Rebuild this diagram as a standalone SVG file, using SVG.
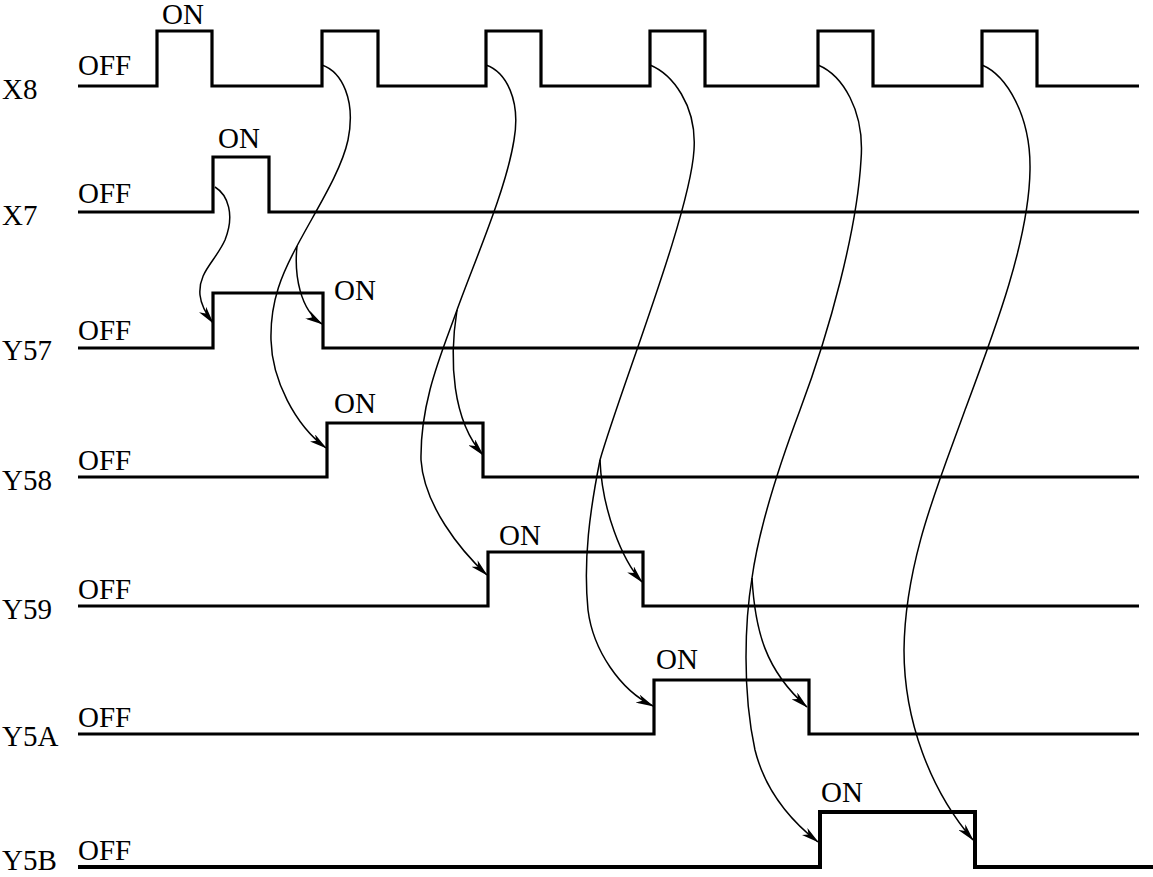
<svg xmlns="http://www.w3.org/2000/svg" width="1153" height="877" viewBox="0 0 1153 877">
<style>
text{font-family:"Liberation Serif","Times New Roman",serif;font-size:29px;fill:#000}
.sig{fill:none;stroke:#000;stroke-width:3.2;stroke-linejoin:miter;stroke-linecap:butt}
.con{fill:none;stroke:#000;stroke-width:1.5}
.arr{marker-end:url(#ah)}
</style>
<defs>
<marker id="ah" markerUnits="userSpaceOnUse" viewBox="0 0 18 9" refX="17" refY="4.5" markerWidth="18" markerHeight="9" orient="auto">
<path d="M0,0 L18,4.5 L0,9 L5,4.5 Z" fill="#000"/>
</marker>
</defs>
<rect width="1153" height="877" fill="#fff"/>
<g id="X8">
<text x="2" y="99">X8</text>
<text x="78" y="75">OFF</text>
<text x="162" y="24">ON</text>
<path class="sig" d="M78,86 H157 V31 H212 V86 H322 V31 H378 V86 H486 V31 H541 V86 H650 V31 H705 V86 H818 V31 H873 V86 H982 V31 H1037 V86 H1139"/>
</g>
<g id="X7">
<text x="2" y="225">X7</text>
<text x="78" y="203">OFF</text>
<text x="218" y="148">ON</text>
<path class="sig" d="M78,212 H213 V157 H269 V212 H1139"/>
</g>
<g id="Y57">
<text x="2" y="360">Y57</text>
<text x="78" y="340">OFF</text>
<text x="334" y="300">ON</text>
<path class="sig" d="M78,348 H213 V293 H323 V348 H1139"/>
</g>
<g id="Y58">
<text x="2" y="490">Y58</text>
<text x="78" y="470">OFF</text>
<text x="334" y="413">ON</text>
<path class="sig" d="M78,477 H327 V423 H483 V477 H1139"/>
</g>
<g id="Y59">
<text x="2" y="619">Y59</text>
<text x="78" y="599">OFF</text>
<text x="499" y="545">ON</text>
<path class="sig" d="M78,606 H488 V552 H643 V606 H1139"/>
</g>
<g id="Y5A">
<text x="2" y="746">Y5A</text>
<text x="78" y="727">OFF</text>
<text x="656" y="669">ON</text>
<path class="sig" d="M78,734 H654 V680 H809 V734 H1139"/>
</g>
<g id="Y5B">
<text x="2" y="870">Y5B</text>
<text x="78" y="860">OFF</text>
<text x="821" y="802">ON</text>
<path class="sig" style="stroke-width:4" d="M78,867 H820 V812 H975 V867 H1153"/>
</g>
<g id="connectors">
<path class="con arr" d="M215,187 C228,195 235,215 225,240 C215,262 198,272 200,295 C201,305 206,314 213,323"/>
<path class="con arr" d="M322,65 C342,72 356,100 348,140 C341,172 316,210 297,246 C283,272 270,300 271,340 C272,380 295,425 326,448"/>
<path class="con arr" d="M297,246 C294,275 300,310 322,324"/>
<path class="con arr" d="M486,65 C506,72 521,100 514,140 C506,190 475,260 457,310 C443,350 420,400 421,460 C424,505 460,550 487,575"/>
<path class="con arr" d="M457,310 C449,360 452,420 483,455"/>
<path class="con arr" d="M650,65 C672,74 697,105 694,150 C690,215 620,390 600,460 C590,510 583,560 588,610 C593,650 620,690 653,706"/>
<path class="con arr" d="M600,460 C602,510 622,560 642,582"/>
<path class="con arr" d="M818,65 C842,75 865,110 861,160 C857,230 830,330 800,410 C785,450 760,520 752,578 C745,620 742,690 755,750 C765,790 790,820 818,842"/>
<path class="con arr" d="M752,578 C755,630 765,670 807,707"/>
<path class="con arr" d="M982,65 C1006,75 1031,115 1030,170 C1029,240 995,330 965,410 C940,480 905,560 904,650 C904,720 930,790 973,840"/>
</g>
</svg>
